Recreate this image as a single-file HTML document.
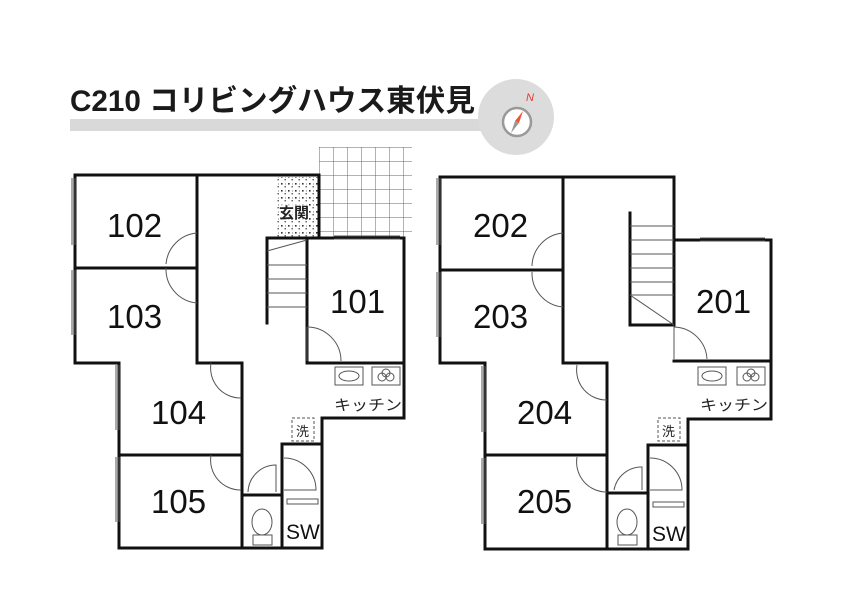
<!DOCTYPE html>
<html><head><meta charset="utf-8"><style>
html,body{margin:0;padding:0;background:#fff}
svg{display:block}
text{font-family:"Liberation Sans","Noto Sans CJK JP",sans-serif}
</style></head><body>
<svg width="842" height="595" viewBox="0 0 842 595" xmlns="http://www.w3.org/2000/svg">
<defs>
<pattern id="dots" width="7" height="7" patternUnits="userSpaceOnUse">
<rect x="1" y="1" width="1.6" height="1.6" fill="#333"/><rect x="4.5" y="4" width="1.4" height="1.4" fill="#555"/><rect x="5" y="1.5" width="1" height="1" fill="#777"/>
</pattern>
<pattern id="grid" width="14" height="14" patternUnits="userSpaceOnUse" x="319" y="147">
<path d="M0 0H14M0 0V14" stroke="#666" stroke-width="1" fill="none"/>
</pattern>
</defs>

<rect x="70" y="119" width="440" height="12" fill="#d9d9d9"/>
<circle cx="516" cy="117" r="38" fill="#dcdcdc"/>
<circle cx="517" cy="122" r="14" fill="#fff" stroke="#999" stroke-width="2.5"/>
<polygon points="523,111 519,123 515,121" fill="#e53"/>
<polygon points="511,133 515,121 519,123" fill="#999"/>
<text x="526" y="101" font-size="11" fill="#e33" font-style="italic">N</text>
<text x="70" y="111" font-size="30" font-weight="bold" fill="#1a1a1a" textLength="405" lengthAdjust="spacingAndGlyphs">C210  コリビングハウス東伏見</text>

<!-- LEFT -->
<rect x="319" y="147" width="93" height="91" fill="url(#grid)"/>
<rect x="277" y="177" width="42" height="61" fill="url(#dots)"/>
<rect x="279" y="202" width="30" height="18" fill="#fff" opacity="0.7"/>
<text x="279" y="218" font-size="15" font-weight="bold" fill="#222">玄関</text>
<g stroke="#111" stroke-width="3" fill="none" stroke-linecap="square">
<path d="M75 175H319V238"/>
<path d="M75 175V363H119V548H322V418H404V238H307V363H404"/>
<path d="M75 268H197"/><path d="M197 175V363H242V548"/>
<path d="M119 455H242"/>
<path d="M267 323V238H307"/>
<path d="M242 495H282V548"/><path d="M282 444H322"/><path d="M282 444V495"/>
</g>
<g stroke="#555" stroke-width="1" fill="none">
<path d="M267 265H307M267 279H307M267 293H307M267 307H307"/>
<path d="M267 251L307 240"/>
<path d="M197 233A34 34 0 0 0 166 264"/><path d="M166 268A34 34 0 0 0 197 303"/>
<path d="M211 363A30 30 0 0 0 241 398"/><path d="M211 455A30 30 0 0 0 241 490"/>
<path d="M307 327V361"/><path d="M307 327A34 34 0 0 1 341 361"/>
<path d="M248 492A28 28 0 0 1 276 465V492"/>
<path d="M284 458A32 32 0 0 1 316 490H284"/>
<path d="M72 178V245M75 178V245M72 270V335M75 270V335M116 365V430M119 365V430M116 457V522M119 457V522"/>
<path d="M334 236H400M334 239H400"/>
<rect x="335" y="367" width="28" height="18"/><ellipse cx="349" cy="376" rx="10" ry="5"/>
<rect x="372" y="367" width="28" height="18"/><circle cx="382" cy="377" r="4"/><circle cx="390" cy="377" r="4"/><circle cx="386" cy="373" r="4"/>
<ellipse cx="262" cy="522" rx="10" ry="13"/><rect x="253" y="535" width="19" height="10"/>
<rect x="287" y="499" width="31" height="5"/>
<rect x="292" y="418" width="22" height="23" stroke-dasharray="3,2"/>
</g>
<text x="296" y="436" font-size="13" fill="#222">洗</text>
<text x="334" y="410" font-size="15" fill="#222" textLength="68" lengthAdjust="spacingAndGlyphs">キッチン</text>
<g font-size="33" fill="#111">
<text x="107" y="237">102</text><text x="107" y="328">103</text>
<text x="151" y="424">104</text><text x="151" y="513">105</text>
<text x="330" y="313">101</text>
</g>
<text x="286" y="539" font-size="21" fill="#111">SW</text>

<!-- RIGHT -->
<g stroke="#111" stroke-width="3" fill="none" stroke-linecap="square">
<path d="M440 177H674V240H771V419H688V549H485V363H440V177"/>
<path d="M440 270H563"/><path d="M563 177V363H607V549"/>
<path d="M485 455H607"/>
<path d="M630 213V325H674V240"/>
<path d="M674 361H771"/>
<path d="M607 493H648V549"/><path d="M648 445H688"/><path d="M648 445V493"/>
</g>
<g stroke="#555" stroke-width="1" fill="none">
<path d="M630 226H674M630 240H674M630 254H674M630 268H674M630 282H674M630 295H674"/>
<path d="M630 295L674 325"/>
<path d="M563 233A34 34 0 0 0 532 266"/><path d="M532 272A34 34 0 0 0 563 307"/>
<path d="M577 365A30 30 0 0 0 607 400"/><path d="M577 457A30 30 0 0 0 607 492"/>
<path d="M674 327V359"/><path d="M674 327A34 34 0 0 1 707 359"/>
<path d="M614 490A28 28 0 0 1 642 467V490"/>
<path d="M650 458A32 32 0 0 1 682 490H650"/>
<path d="M437 178V245M440 178V245M437 272V337M440 272V337M482 366V432M485 366V432M482 458V524M485 458V524"/>
<path d="M700 238H765M700 241H765"/>
<rect x="698" y="367" width="28" height="18"/><ellipse cx="712" cy="376" rx="10" ry="5"/>
<rect x="737" y="367" width="28" height="18"/><circle cx="747" cy="377" r="4"/><circle cx="755" cy="377" r="4"/><circle cx="751" cy="373" r="4"/>
<ellipse cx="627" cy="522" rx="10" ry="13"/><rect x="618" y="535" width="19" height="10"/>
<rect x="653" y="502" width="31" height="5"/>
<rect x="658" y="418" width="22" height="23" stroke-dasharray="3,2"/>
</g>
<text x="662" y="436" font-size="13" fill="#222">洗</text>
<text x="700" y="410" font-size="15" fill="#222" textLength="68" lengthAdjust="spacingAndGlyphs">キッチン</text>
<g font-size="33" fill="#111">
<text x="473" y="237">202</text><text x="473" y="328">203</text>
<text x="517" y="424">204</text><text x="517" y="513">205</text>
<text x="696" y="313">201</text>
</g>
<text x="652" y="541" font-size="21" fill="#111">SW</text>
</svg>
</body></html>
